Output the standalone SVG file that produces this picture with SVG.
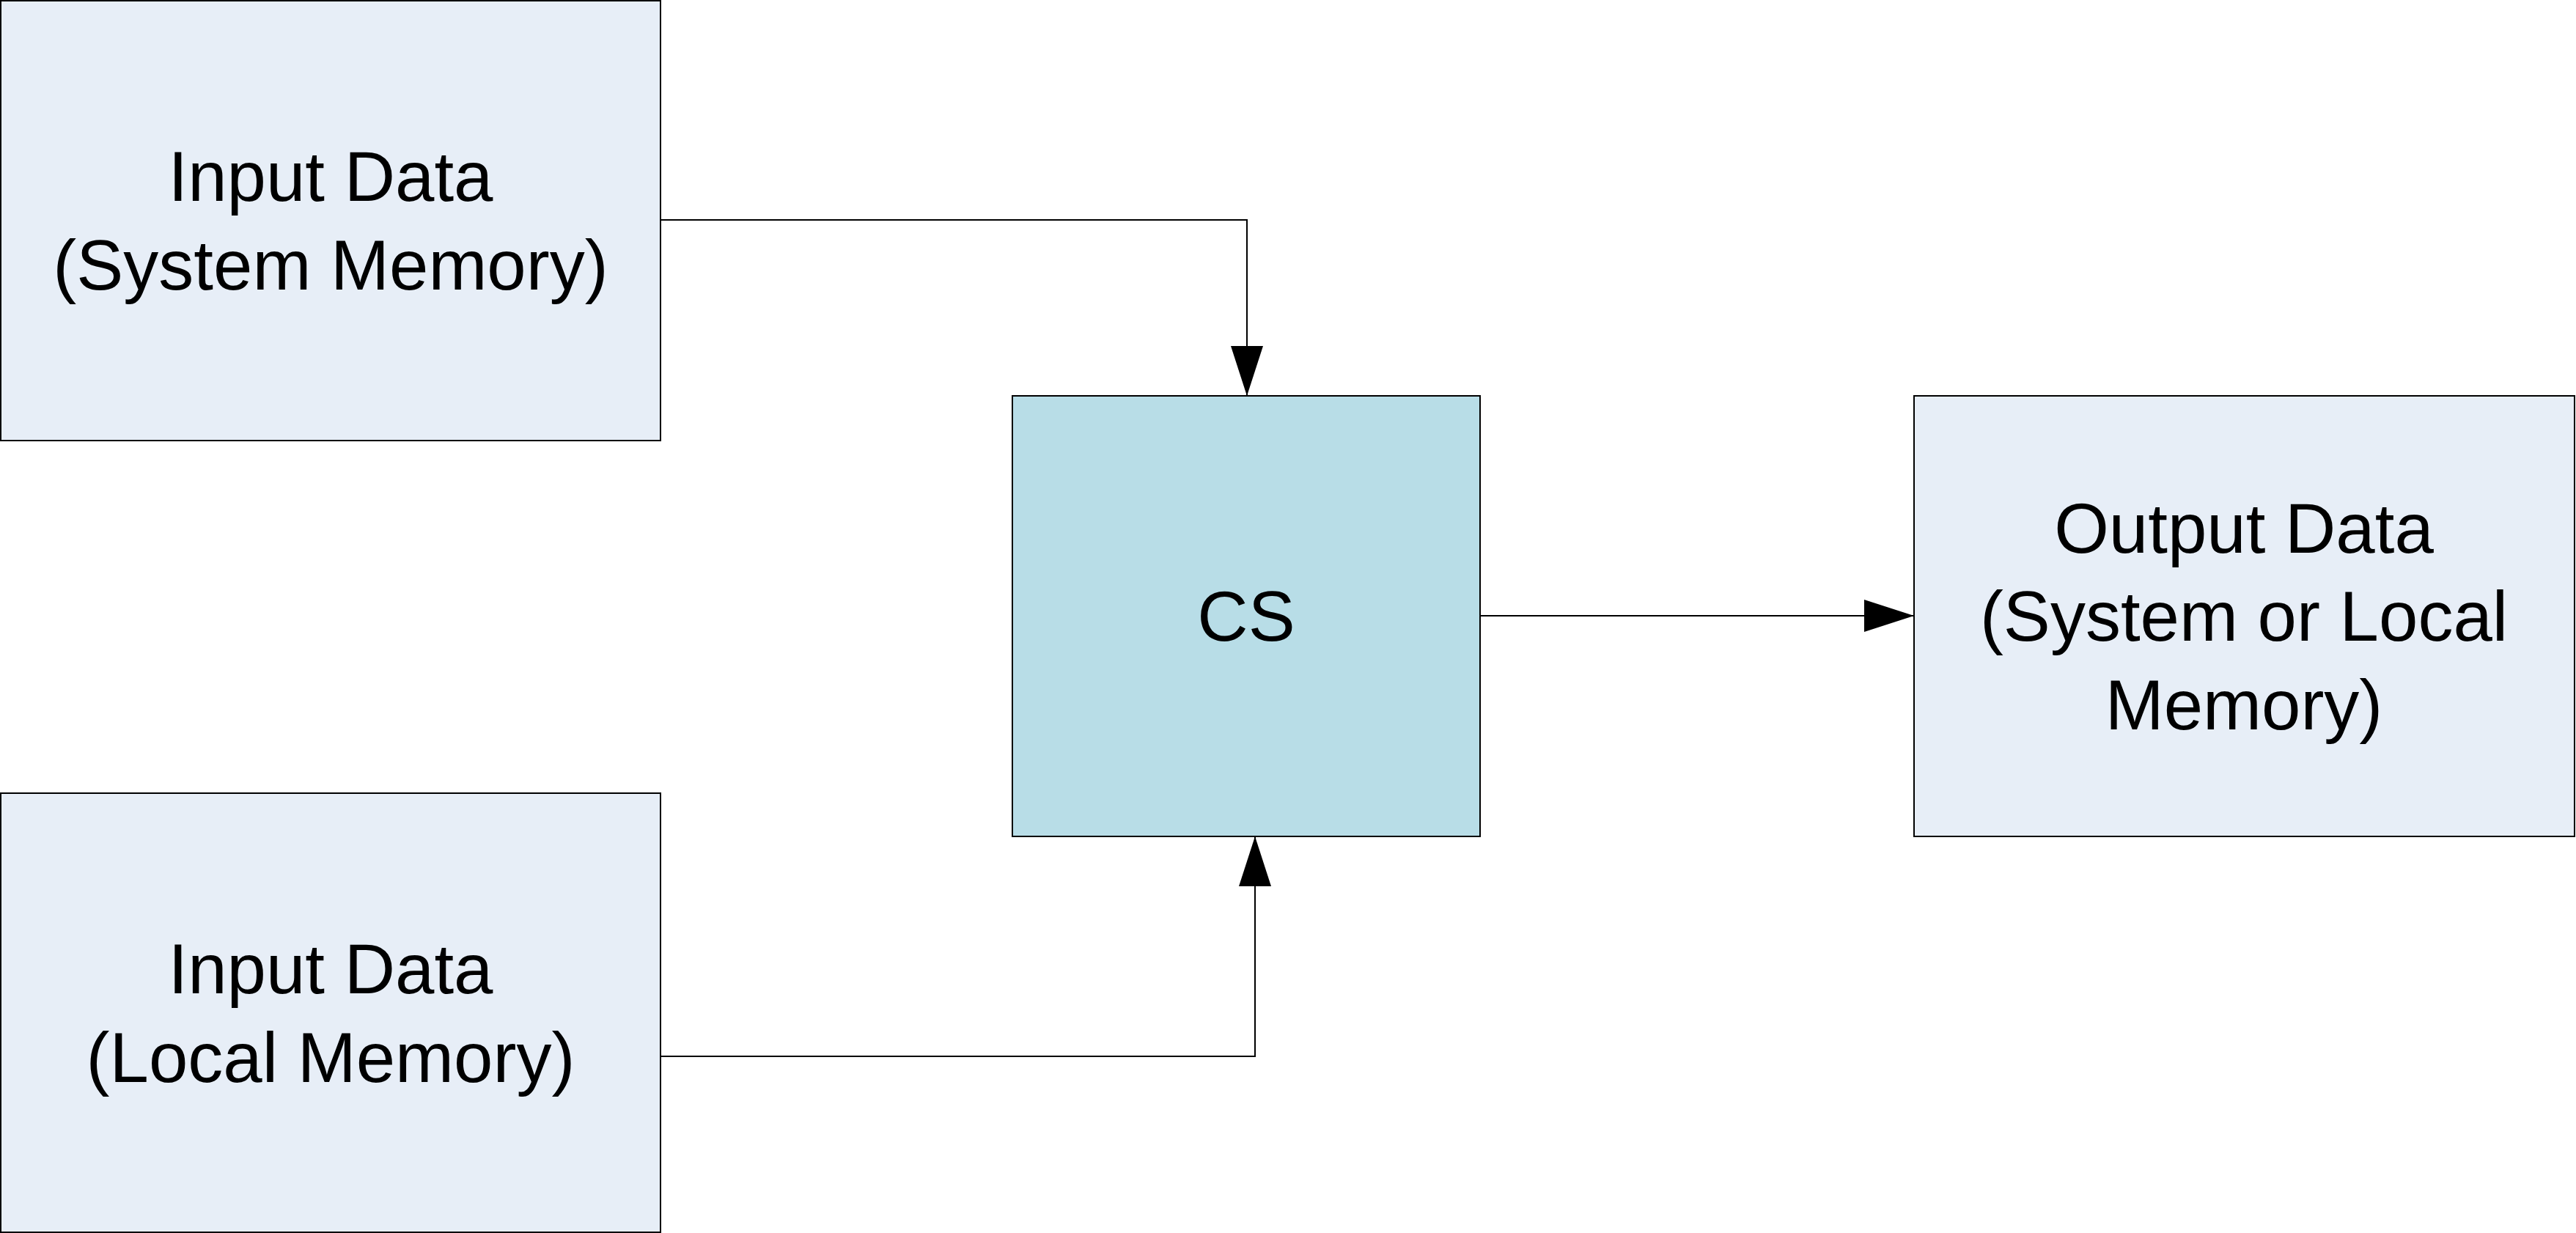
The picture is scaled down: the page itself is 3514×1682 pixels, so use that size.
<svg xmlns="http://www.w3.org/2000/svg" width="3514" height="1682" viewBox="0 0 3514 1682">
<style>
.box{fill:#E7EEF7;stroke:#000;stroke-width:2}
.cs{fill:#B8DDE7;stroke:#000;stroke-width:2}
text{font-family:"Liberation Sans",Arial,sans-serif;font-size:96px;text-anchor:middle;fill:#000}
.c{fill:none;stroke:#000;stroke-width:2}
</style>
<defs>
<marker id="a" markerUnits="userSpaceOnUse" markerWidth="70" markerHeight="44" refX="68" refY="22" orient="auto">
<path d="M0,0 L68,22 L0,44 Z" fill="#000"/>
</marker>
</defs>
<rect width="3514" height="1682" fill="#fff"/>
<g id="in1"><rect class="box" x="1" y="1" width="900" height="600"/>
<text x="451" y="274">Input Data</text><text x="451" y="395">(System Memory)</text></g>
<g id="in2"><rect class="box" x="1" y="1082" width="900" height="599"/>
<text x="451" y="1355">Input Data</text><text x="451" y="1476">(Local Memory)</text></g>
<g id="cs"><rect class="cs" x="1381" y="540" width="638" height="601"/>
<text x="1700" y="874">CS</text></g>
<g id="out"><rect class="box" x="2611" y="540" width="901" height="601"/>
<text x="3061" y="754">Output Data</text><text x="3061" y="874">(System or Local</text><text x="3061" y="995">Memory)</text></g>
<g id="connectors">
<polyline class="c" points="901,300 1701,300 1701,540" marker-end="url(#a)"/>
<polyline class="c" points="901,1441 1712,1441 1712,1141" marker-end="url(#a)"/>
<polyline class="c" points="2019,840 2611,840" marker-end="url(#a)"/>
</g>
</svg>
